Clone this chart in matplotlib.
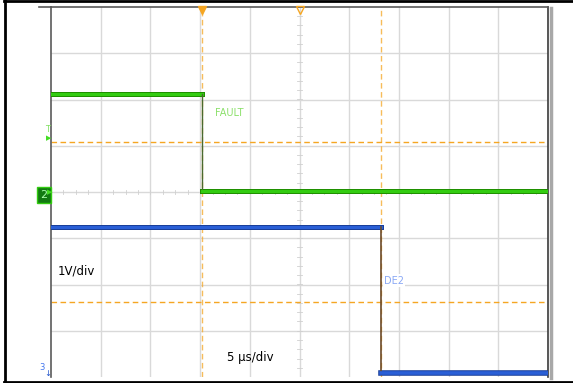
import matplotlib
matplotlib.use("Agg")
import matplotlib.pyplot as plt
from matplotlib.lines import Line2D
import numpy as np

# Data in divisions (x: 10 div of 5 us, y: 8 div of 1 V)
green_t = [0.0, 3.03, 3.03, 10.0]
green_v = [2.12, 2.12, 0.03, 0.03]
blue_t = [0.0, 6.64, 6.64, 10.0]
blue_v = [-0.76, -0.76, -3.92, -3.92]
cursor_x = [3.03, 6.64]
cursor_y = [1.08, -2.38]
labels = {"fault": "FAULT", "de2": "DE2", "vdiv": "1V/div", "tdiv": "5 µs/div"}

W, H = 573, 383
fig = plt.figure(figsize=(W / 100, H / 100), dpi=100)
fig.patch.set_facecolor("white")

x0, x1, y0, y1 = 51, 548, 7, 377
ax = fig.add_axes([x0 / W, 1 - y1 / H, (x1 - x0) / W, (y1 - y0) / H])
ax.set_xlim(0, 10)
ax.set_ylim(-4, 4)
ax.set_xticks([])
ax.set_yticks([])
ax.spines["bottom"].set_visible(False)
ax.spines["left"].set_color("#5a5a5a")
ax.spines["top"].set_color("#5a5a5a")
ax.spines["right"].set_color("#3a3a3a")
for s in ["left", "top", "right"]:
    ax.spines[s].set_linewidth(1.2)

grid_c = "#d9d9d9"
for gx in range(1, 10):
    ax.axvline(gx, color=grid_c, lw=1.0, zorder=1)
for gy in range(-3, 4):
    ax.axhline(gy, color=grid_c, lw=1.0, zorder=1)
# minor ticks on center lines
for t in np.arange(-4, 4.01, 0.2):
    ax.plot([4.95, 5.05], [t, t], color="#d0d0d0", lw=0.6, zorder=1)
for t in np.arange(0, 10.01, 0.25):
    ax.plot([t, t], [-0.05, 0.05], color="#d0d0d0", lw=0.6, zorder=1)

# cursors
orange = "#f5a623"
for cx in cursor_x:
    ax.axvline(cx, color=orange, lw=1.0, ls=(0, (4, 2.5)), alpha=0.75, zorder=2)
for cy in cursor_y:
    ax.axhline(cy, color=orange, lw=1.0, ls=(0, (4, 2.5)), zorder=2)

# traces
ax.plot(green_t[:2], green_v[:2], color="#1f8f00", lw=3.6, zorder=3)
ax.plot(green_t[:2], green_v[:2], color="#33cc11", lw=2.2, zorder=4)
ax.plot(green_t[1:3], green_v[1:3], color="#4a6a30", lw=1.0, zorder=4)
ax.plot(green_t[2:], green_v[2:], color="#1f8f00", lw=3.6, zorder=3)
ax.plot(green_t[2:], green_v[2:], color="#33cc11", lw=2.2, zorder=4)
ax.plot(blue_t[:2], blue_v[:2], color="#1a3f99", lw=3.6, zorder=3)
ax.plot(blue_t[:2], blue_v[:2], color="#2a5fd6", lw=2.2, zorder=4)
ax.plot(blue_t[1:3], blue_v[1:3], color="#6b4a2a", lw=1.2, zorder=4)
ax.plot(blue_t[2:], blue_v[2:], color="#1a3f99", lw=4.0, zorder=3)
ax.plot(blue_t[2:], blue_v[2:], color="#2a5fd6", lw=2.6, zorder=4)

# labels
ax.text(3.3, 1.7, labels["fault"], color="#8be06a", fontsize=7, ha="left", va="center", zorder=5)
ax.text(6.7, -1.92, labels["de2"], color="#8aa8f5", fontsize=7, ha="left", va="center", zorder=5,
        bbox=dict(facecolor="white", edgecolor="none", pad=1))
ax.text(0.14, -1.7, labels["vdiv"], color="black", fontsize=8.5, ha="left", va="center", zorder=5)
ax.text(3.55, -3.58, labels["tdiv"], color="black", fontsize=8.5, ha="left", va="center", zorder=5)

# trigger markers at top
ax.plot([3.03], [3.93], marker="v", color=orange, ms=6, clip_on=False, zorder=6)
ax.plot([5.0], [3.93], marker="v", mfc="none", mec=orange, ms=6, clip_on=False, zorder=6)

def fx(px):
    return px / W

def fy(py):
    return 1 - py / H

# outer frame (top, left, bottom)
fig.add_artist(Line2D([fx(4), fx(573)], [fy(1), fy(1)], color="black", lw=2))
fig.add_artist(Line2D([fx(4.5), fx(4.5)], [fy(0), fy(382)], color="black", lw=2))
fig.add_artist(Line2D([fx(4), fx(573)], [fy(381.5), fy(381.5)], color="black", lw=2))
fig.add_artist(Line2D([fx(39), fx(51)], [fy(7), fy(7)], color="#5a5a5a", lw=1.2))
fig.add_artist(Line2D([fx(551), fx(551)], [fy(8), fy(378)], color="#a8a8a8", lw=2.5))

# channel markers
fig.text(fx(48), fy(129), "T", color="#7fe060", fontsize=6, ha="center", va="center")
fig.text(fx(49), fy(138), "\u25B6", color="#44dd22", fontsize=5, ha="center", va="center")
fig.text(fx(44), fy(195), "2", color="#aaffaa", fontsize=8, ha="center", va="center",
         bbox=dict(facecolor="#127a12", edgecolor="#33cc11", pad=2.5, lw=1))
fig.text(fx(49.5), fy(192), "\u25B6", color="#44dd22", fontsize=5, ha="center", va="center")
fig.text(fx(42), fy(368), "3", color="#4477ee", fontsize=6, ha="center", va="center")
fig.text(fx(48), fy(373), "\u2193", color="#2255cc", fontsize=6, ha="center", va="center")

fig.savefig("out.png", dpi=100, facecolor="white")
